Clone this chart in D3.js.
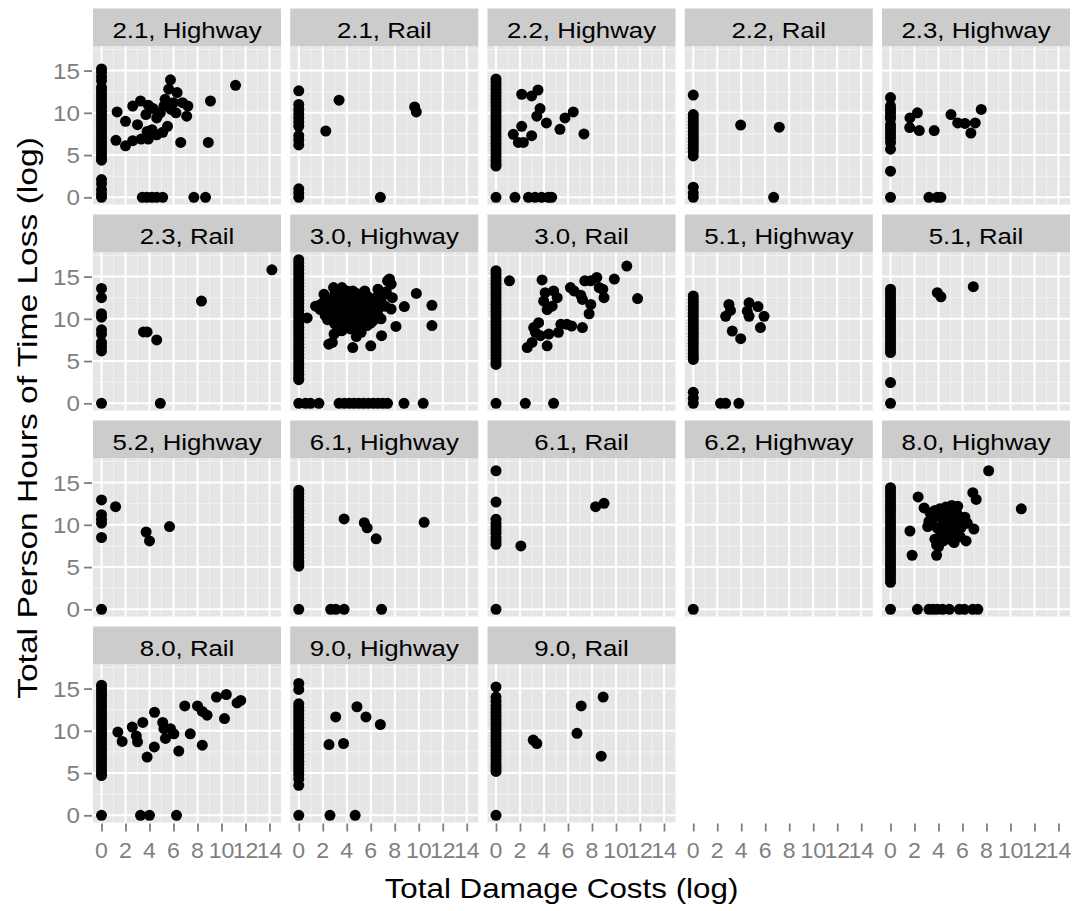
<!DOCTYPE html>
<html>
<head>
<meta charset="utf-8">
<script src="https://cdn.jsdelivr.net/npm/d3@7"></script>
<style>
  body { margin: 0; background: #ffffff; }
  svg { display: block; }
</style>
</head>
<body>
<script>
// Facet labels, in panel order (five per row)
const facetLabels = [
  "2.1, Highway", "2.1, Rail", "2.2, Highway", "2.2, Rail", "2.3, Highway",
  "2.3, Rail", "3.0, Highway", "3.0, Rail", "5.1, Highway", "5.1, Rail",
  "5.2, Highway", "6.1, Highway", "6.1, Rail", "6.2, Highway", "8.0, Highway",
  "8.0, Rail", "9.0, Highway", "9.0, Rail"
];

// Axis ticks
const xTicks = [0, 2, 4, 6, 8, 10, 12, 14];
const yTicks = [0, 5, 10, 15];
const xMinor = [1, 3, 5, 7, 9, 11, 13];
const yMinor = [2.5, 7.5, 12.5, 17.5];

// Incidents with zero damage cost: log time loss values (x = 0)
const zero21H = [15.2, 14.8, 14.3, 13.8, 13.0, 12.6, 12.2, 11.8, 11.4, 11.0, 10.6, 10.2, 9.8, 9.4, 9.0, 8.6, 8.2, 7.8, 7.4, 7.0, 6.6, 6.2, 5.8, 5.4, 5.0, 4.6, 4.4, 2.1, 1.6, 0.9, 0.4, 0];
const zero21R = [12.6, 11.0, 10.4, 9.9, 9.4, 8.9, 8.4, 7.3, 6.8, 6.2, 1.0, 0.5, 0];
const zero22H = [14.0, 13.6, 13.2, 12.8, 12.4, 12.0, 11.6, 11.2, 10.8, 10.4, 10.0, 9.6, 9.2, 8.8, 8.4, 8.0, 7.6, 7.2, 6.8, 6.4, 6.0, 5.6, 5.2, 4.8, 4.4, 4.0, 3.7, 0];
const zero22R = [12.1, 9.8, 9.4, 9.0, 8.6, 8.2, 7.8, 7.4, 7.0, 6.6, 6.2, 5.8, 5.4, 4.9, 1.2, 0.5, 0];
const zero23H = [11.8, 10.8, 10.4, 10.0, 9.6, 9.3, 8.6, 8.2, 7.8, 7.4, 7.0, 6.5, 5.7, 3.1, 0];
const zero23R = [13.6, 12.5, 10.6, 10.2, 8.7, 8.2, 7.2, 6.7, 6.2, 0];
const zero30H = [17.0, 16.6, 16.2, 15.8, 15.4, 15.0, 14.6, 14.2, 13.8, 13.4, 13.0, 12.6, 12.2, 11.8, 11.4, 11.0, 10.6, 10.2, 9.8, 9.4, 9.0, 8.6, 8.2, 7.8, 7.4, 7.0, 6.6, 6.2, 5.8, 5.4, 5.0, 4.6, 4.2, 3.8, 3.4, 3.0, 2.8, 0];
const zero30R = [15.7, 15.3, 14.9, 14.5, 14.1, 13.7, 13.3, 12.9, 12.5, 12.1, 11.7, 11.3, 10.9, 10.5, 10.1, 9.7, 9.3, 8.9, 8.5, 8.1, 7.7, 7.3, 6.9, 6.5, 6.1, 5.7, 5.3, 4.9, 4.6, 0];
const zero51H = [12.7, 12.3, 11.9, 11.5, 11.1, 10.7, 10.3, 9.9, 9.5, 9.1, 8.7, 8.3, 7.9, 7.5, 7.1, 6.7, 6.3, 5.9, 5.5, 5.2, 1.3, 0.6, 0];
const zero51R = [13.5, 13.1, 12.7, 12.3, 11.9, 11.5, 11.1, 10.7, 10.3, 9.9, 9.5, 9.1, 8.7, 8.3, 7.9, 7.5, 7.1, 6.7, 6.3, 6.0, 2.45, 0];
const zero52H = [12.95, 11.2, 10.65, 10.2, 8.5, 0];
const zero61H = [14.1, 13.7, 13.3, 12.9, 12.5, 12.1, 11.7, 11.3, 10.9, 10.5, 10.1, 9.7, 9.3, 8.9, 8.5, 8.1, 7.7, 7.3, 6.9, 6.5, 6.1, 5.7, 5.4, 5.1, 0];
const zero61R = [16.4, 12.7, 10.65, 10.2, 9.8, 9.4, 9.0, 8.5, 8.1, 7.7, 0];
const zero62H = [0];
const zero80H = [14.4, 14.0, 13.6, 13.2, 12.8, 12.4, 12.0, 11.6, 11.2, 10.8, 10.4, 10.0, 9.6, 9.2, 8.8, 8.4, 8.0, 7.6, 7.2, 6.8, 6.4, 6.0, 5.6, 5.2, 4.8, 4.4, 4.0, 3.6, 3.2, 0];
const zero80R = [15.4, 15.0, 14.6, 14.2, 13.8, 13.4, 13.0, 12.6, 12.2, 11.8, 11.4, 11.0, 10.6, 10.2, 9.8, 9.4, 9.0, 8.6, 8.2, 7.8, 7.4, 7.0, 6.6, 6.2, 5.8, 5.4, 5.0, 4.7, 0];
const zero90H = [15.6, 14.9, 13.2, 12.8, 12.4, 12.0, 11.6, 11.2, 10.8, 10.4, 10.0, 9.6, 9.2, 8.8, 8.4, 8.0, 7.6, 7.2, 6.8, 6.4, 6.0, 5.6, 5.2, 4.8, 4.3, 3.55, 0];
const zero90R = [15.2, 14.0, 13.5, 13.0, 12.6, 12.2, 11.8, 11.4, 11.0, 10.6, 10.2, 9.8, 9.4, 9.0, 8.6, 8.2, 7.8, 7.4, 7.0, 6.6, 6.2, 5.8, 5.5, 5.2, 0];

// Incidents with a recorded damage cost: [log damage cost, log time loss]
const cost21H = [
  [5.75, 13.9], [11.17, 13.25], [9.08, 11.4], [5.6, 12.8], [6.3, 12.4], [5.3, 11.6], [6.0, 11.2],
  [5.2, 10.8], [5.8, 10.4], [4.9, 10.0], [6.2, 10.0], [4.6, 9.4], [5.5, 8.4], [5.1, 7.7], [4.6, 7.4],
  [6.75, 11.2], [7.2, 10.8], [7.1, 9.6], [6.6, 6.5], [8.9, 6.5],
  [1.3, 10.1], [2.0, 9.0], [2.6, 10.8], [3.25, 11.4], [3.9, 10.9], [3.0, 8.6], [3.7, 9.8], [4.3, 10.5],
  [1.2, 6.75], [2.0, 6.1], [2.6, 6.7], [3.3, 6.9], [3.9, 6.9], [3.8, 7.8], [4.2, 8.0],
  [3.4, 0], [3.8, 0], [4.2, 0], [4.6, 0], [5.1, 0], [7.7, 0], [8.67, 0]
];
const cost21R = [[3.36, 11.5], [2.25, 7.85], [9.66, 10.7], [9.8, 10.1], [6.8, 0]];
const cost22H = [
  [2.14, 12.2], [2.97, 12.0], [3.5, 12.7], [3.67, 10.5], [3.4, 9.6], [4.2, 8.8], [5.75, 9.4],
  [6.44, 10.1], [5.33, 8.05], [7.33, 7.5], [2.14, 8.4], [1.44, 7.45], [1.86, 6.5], [2.28, 6.5],
  [2.97, 7.3], [1.58, 0], [2.7, 0], [3.25, 0], [3.8, 0], [4.36, 0], [4.64, 0]
];
const cost22R = [[3.95, 8.55], [7.17, 8.3], [6.7, 0]];
const cost23H = [
  [1.62, 9.4], [2.24, 10.0], [1.6, 8.25], [2.4, 7.9], [3.64, 7.9], [5.04, 9.8], [5.6, 8.8],
  [6.2, 8.75], [7.06, 8.8], [6.7, 7.6], [7.56, 10.4], [3.2, 0], [3.9, 0], [4.2, 0]
];
const cost23R = [[14.2, 15.8], [8.33, 12.1], [3.5, 8.45], [3.8, 8.45], [4.6, 7.5], [4.9, 0]];
const cost30H = [
  [7.56, 14.7], [9.8, 13.0], [11.1, 11.6], [11.1, 9.2], [8.8, 11.45], [8.1, 9.1], [6.9, 8.0],
  [6.0, 6.8], [4.5, 6.6], [2.5, 7.0], [0.7, 10.1], [1.7, 11.6],
  [1.4, 11.5], [1.8, 11.1], [2.1, 12.9], [2.4, 12.2], [2.9, 13.7], [3.3, 13.2], [3.6, 13.7],
  [2.8, 11.6], [3.2, 12.4], [3.5, 11.2], [3.9, 12.8], [4.2, 12.0], [4.5, 13.3], [4.4, 11.4],
  [4.8, 12.6], [5.0, 11.8], [5.5, 13.3], [5.3, 12.2], [5.7, 12.7], [5.9, 11.6], [6.2, 12.3],
  [6.6, 13.5], [6.4, 11.9], [6.9, 12.6], [7.4, 14.5], [7.7, 14.1], [7.3, 13.2], [7.8, 12.5],
  [7.2, 11.5], [7.7, 11.15], [6.86, 10.0], [6.3, 10.8], [5.8, 10.3], [5.2, 10.9], [4.6, 10.2],
  [4.0, 10.6], [3.4, 10.1], [2.9, 10.6], [2.6, 11.0], [3.0, 9.4], [3.4, 9.4], [3.9, 9.0],
  [4.3, 8.8], [4.7, 9.6], [5.2, 9.4], [5.7, 9.2], [5.2, 8.4], [4.8, 7.9], [2.94, 8.2], [2.8, 7.2],
  [3.3, 8.6], [6.2, 9.8], [2.2, 10.4], [4.1, 11.9], [5.5, 11.1], [6.7, 11.3], [3.7, 12.3], [2.5, 12.0],
  [2.0, 11.9], [2.3, 11.4], [3.0, 12.9], [3.3, 11.8], [3.7, 11.6], [4.0, 13.3], [4.3, 12.6],
  [4.6, 12.3], [4.9, 11.2], [5.1, 12.9], [5.4, 11.5], [5.9, 12.1], [6.1, 11.0], [6.5, 12.6],
  [6.9, 11.9], [7.1, 12.9], [3.1, 10.9], [3.8, 10.2], [4.3, 10.0], [4.9, 10.6], [5.5, 9.9],
  [6.0, 9.5], [6.6, 10.4], [2.4, 9.9], [3.6, 8.6], [5.0, 8.9], [4.1, 9.5], [4.8, 13.0]
].concat([
  [0.56, 0], [0.98, 0], [1.68, 0], [3.36, 0], [3.8, 0], [4.2, 0], [4.6, 0], [5.0, 0], [5.4, 0],
  [5.8, 0], [6.2, 0], [6.6, 0], [7.0, 0], [7.4, 0], [8.77, 0], [10.37, 0]
]);
const cost30R = [
  [1.12, 14.5], [3.84, 14.6], [10.9, 16.25], [9.86, 14.7], [11.8, 12.4], [8.4, 14.9], [7.4, 14.5],
  [7.9, 14.5], [8.6, 13.7], [8.9, 13.5], [6.2, 13.7], [6.5, 13.3], [7.06, 12.8], [7.2, 12.3],
  [7.9, 11.7], [9.0, 12.5], [4.1, 13.1], [4.8, 13.3], [3.97, 12.1], [4.68, 11.5], [5.1, 12.5],
  [4.26, 11.1], [7.76, 10.6], [3.55, 9.55], [3.14, 8.96], [3.28, 8.4], [3.7, 8.0], [4.4, 8.2],
  [5.4, 9.35], [5.9, 9.35], [6.3, 9.15], [7.2, 8.96], [5.2, 8.4], [2.6, 6.6], [3.0, 7.2], [4.26, 6.8],
  [2.44, 0], [4.8, 0]
];
const cost51H = [
  [2.97, 11.7], [2.7, 10.3], [3.1, 11.0], [4.65, 11.9], [4.5, 10.9], [4.65, 10.3], [5.4, 11.45],
  [5.9, 10.3], [5.6, 8.96], [3.25, 8.55], [3.95, 7.65], [2.27, 0], [2.7, 0], [3.8, 0]
];
const cost51R = [[3.9, 13.1], [4.2, 12.6], [6.9, 13.8]];
const cost52H = [[1.17, 12.15], [3.72, 9.15], [4.0, 8.1], [5.67, 9.8]];
const cost61H = [
  [3.78, 10.7], [5.46, 10.25], [5.7, 9.65], [6.45, 8.35], [10.45, 10.3],
  [2.66, 0], [3.08, 0], [3.78, 0], [6.9, 0]
];
const cost61R = [[2.07, 7.5], [8.3, 12.15], [9.0, 12.55]];
const cost62H = [];
const cost80H = [
  [8.18, 16.4], [10.9, 11.9], [2.3, 13.3], [2.8, 12.0], [6.86, 13.8], [7.14, 13.0], [1.62, 9.27],
  [1.8, 6.4], [3.84, 6.4], [3.84, 7.6], [6.95, 9.5], [6.3, 8.1], [5.6, 12.2],
  [3.3, 11.4], [3.7, 11.7], [4.1, 11.9], [4.6, 12.1], [5.1, 12.3], [5.4, 11.6], [3.2, 10.4],
  [3.6, 10.8], [4.0, 11.1], [4.4, 10.6], [4.8, 11.3], [5.2, 10.9], [5.6, 11.2], [6.0, 10.7],
  [6.4, 10.2], [3.1, 9.8], [3.5, 10.0], [3.9, 9.6], [4.3, 9.9], [4.7, 10.2], [5.1, 9.8],
  [5.5, 10.1], [5.9, 9.7], [4.2, 8.9], [4.6, 9.2], [5.0, 8.8], [5.4, 9.1], [5.8, 8.6],
  [4.4, 8.1], [4.9, 8.3], [5.3, 7.9], [4.0, 7.4], [3.7, 8.3], [6.2, 10.9],
  [2.24, 0], [3.2, 0], [3.55, 0], [3.92, 0], [4.34, 0], [4.9, 0], [5.74, 0], [6.16, 0], [6.86, 0], [7.28, 0]
];
const cost80R = [
  [1.36, 9.85], [1.72, 8.75], [2.56, 10.45], [2.9, 9.4], [3.0, 8.7], [3.44, 11.0], [4.42, 12.2],
  [3.8, 6.9], [4.4, 8.1], [5.1, 11.0], [5.2, 10.25], [5.75, 10.25], [5.33, 9.1], [6.03, 9.65],
  [6.44, 7.6], [6.94, 12.95], [7.4, 9.65], [8.0, 12.95], [8.4, 12.3], [8.8, 11.85], [8.4, 8.3],
  [9.58, 14.0], [10.4, 14.3], [10.25, 11.45], [11.3, 13.3], [11.6, 13.6],
  [3.25, 0], [4.0, 0], [6.25, 0]
];
const cost90H = [
  [3.08, 11.65], [2.52, 8.37], [3.73, 8.5], [4.85, 12.85], [5.6, 11.65], [6.8, 10.75],
  [2.6, 0], [4.7, 0]
];
const cost90R = [[3.1, 8.9], [3.4, 8.5], [7.1, 12.95], [6.75, 9.7], [8.93, 14.0], [8.77, 7.0]];

const zeroLists = [zero21H, zero21R, zero22H, zero22R, zero23H, zero23R, zero30H, zero30R, zero51H,
  zero51R, zero52H, zero61H, zero61R, zero62H, zero80H, zero80R, zero90H, zero90R];
const costLists = [cost21H, cost21R, cost22H, cost22R, cost23H, cost23R, cost30H, cost30R, cost51H,
  cost51R, cost52H, cost61H, cost61R, cost62H, cost80H, cost80R, cost90H, cost90R];

// ---- layout ----
const W = 1075, H = 911;
const nCols = 5, nRows = 4;
const left0 = 93, top0 = 8.5;
const panelW = 188, panelH = 158, stripH = 38;
const colStep = 197.25, rowStep = 206;

const FONT = "'Liberation Sans', Arial, Helvetica, sans-serif";
const GREY_TEXT = "#7f7f7f";

const svg = d3.select("body").append("svg")
  .attr("width", W).attr("height", H)
  .style("font-family", FONT);

const x = d3.scaleLinear().domain([-0.71, 14.96]).range([0, panelW]);
const y = d3.scaleLinear().domain([-0.85, 17.85]).range([panelH, 0]);

// text widened horizontally along its reading direction
function wideText(g, str, tx, ty, size, sx, anchor, fill, rotate) {
  const rot = rotate ? ` rotate(${rotate})` : "";
  return g.append("text")
    .attr("transform", `translate(${tx},${ty})${rot} scale(${sx},1)`)
    .attr("text-anchor", anchor)
    .attr("font-size", size)
    .attr("fill", fill)
    .text(str);
}

const facets = facetLabels.map((label, i) => {
  const pts = zeroLists[i].map(v => [0, v]).concat(costLists[i]);
  return { label, pts, col: i % nCols, row: Math.floor(i / nCols) };
});

facets.forEach(f => {
  const gx = left0 + f.col * colStep;
  const gy = top0 + f.row * rowStep;
  const g = svg.append("g").attr("transform", `translate(${gx},${gy})`);

  // strip
  g.append("rect").attr("width", panelW).attr("height", stripH).attr("fill", "#cccccc");
  wideText(g, f.label, panelW / 2, 29, 21.5, 1.2, "middle", "#000000");

  const p = g.append("g").attr("transform", `translate(0,${stripH})`);
  p.append("rect").attr("width", panelW).attr("height", panelH).attr("fill", "#e5e5e5");

  // minor grid
  p.selectAll("line.vminor").data(xMinor).join("line")
    .attr("x1", d => x(d)).attr("x2", d => x(d)).attr("y1", 0).attr("y2", panelH)
    .attr("stroke", "#f2f2f2").attr("stroke-width", 1);
  p.selectAll("line.hminor").data(yMinor).join("line")
    .attr("y1", d => y(d)).attr("y2", d => y(d)).attr("x1", 0).attr("x2", panelW)
    .attr("stroke", "#f2f2f2").attr("stroke-width", 1);
  // major grid
  p.selectAll("line.vmajor").data(xTicks).join("line")
    .attr("x1", d => x(d)).attr("x2", d => x(d)).attr("y1", 0).attr("y2", panelH)
    .attr("stroke", "#ffffff").attr("stroke-width", 2);
  p.selectAll("line.hmajor").data(yTicks).join("line")
    .attr("y1", d => y(d)).attr("y2", d => y(d)).attr("x1", 0).attr("x2", panelW)
    .attr("stroke", "#ffffff").attr("stroke-width", 2);

  // points
  p.selectAll("circle").data(f.pts).join("circle")
    .attr("cx", d => x(d[0])).attr("cy", d => y(d[1])).attr("r", 5.5)
    .attr("fill", "#000000");
});

// y axes on the first column of every row
for (let r = 0; r < nRows; r++) {
  const g = svg.append("g").attr("transform", `translate(${left0},${top0 + r * rowStep + stripH})`);
  const ax = g.call(d3.axisLeft(y).tickValues(yTicks).tickSize(9).tickSizeOuter(0));
  ax.select(".domain").remove();
  ax.selectAll(".tick line").attr("stroke", GREY_TEXT).attr("stroke-width", 1.8).attr("x1", -1);
  ax.selectAll(".tick text").remove();
  yTicks.forEach(v => wideText(g, String(v), -13, y(v) + 8, 22, 1.1, "end", GREY_TEXT));
}

// x axes along the bottom of every column (labels are tightly packed, as 10-14 crowd together)
const axisY = top0 + (nRows - 1) * rowStep + stripH + panelH;
for (let c = 0; c < nCols; c++) {
  const g = svg.append("g").attr("transform", `translate(${left0 + c * colStep},${axisY})`);
  const ax = g.call(d3.axisBottom(x).tickValues(xTicks).tickSize(9).tickSizeOuter(0));
  ax.select(".domain").remove();
  ax.selectAll(".tick line").attr("stroke", GREY_TEXT).attr("stroke-width", 1.8).attr("y1", 1);
  ax.selectAll(".tick text").remove();
  xTicks.forEach(v => wideText(g, String(v), x(v), 35.5, 22, 1.05, "middle", GREY_TEXT));
}

// axis titles
wideText(svg, "Total Damage Costs (log)", 561.5, 898, 28, 1.12, "middle", "#000000");
wideText(svg, "Total Person Hours of Time Loss (log)", 37, 418, 28, 1.2, "middle", "#000000", -90);
</script>
</body>
</html>
